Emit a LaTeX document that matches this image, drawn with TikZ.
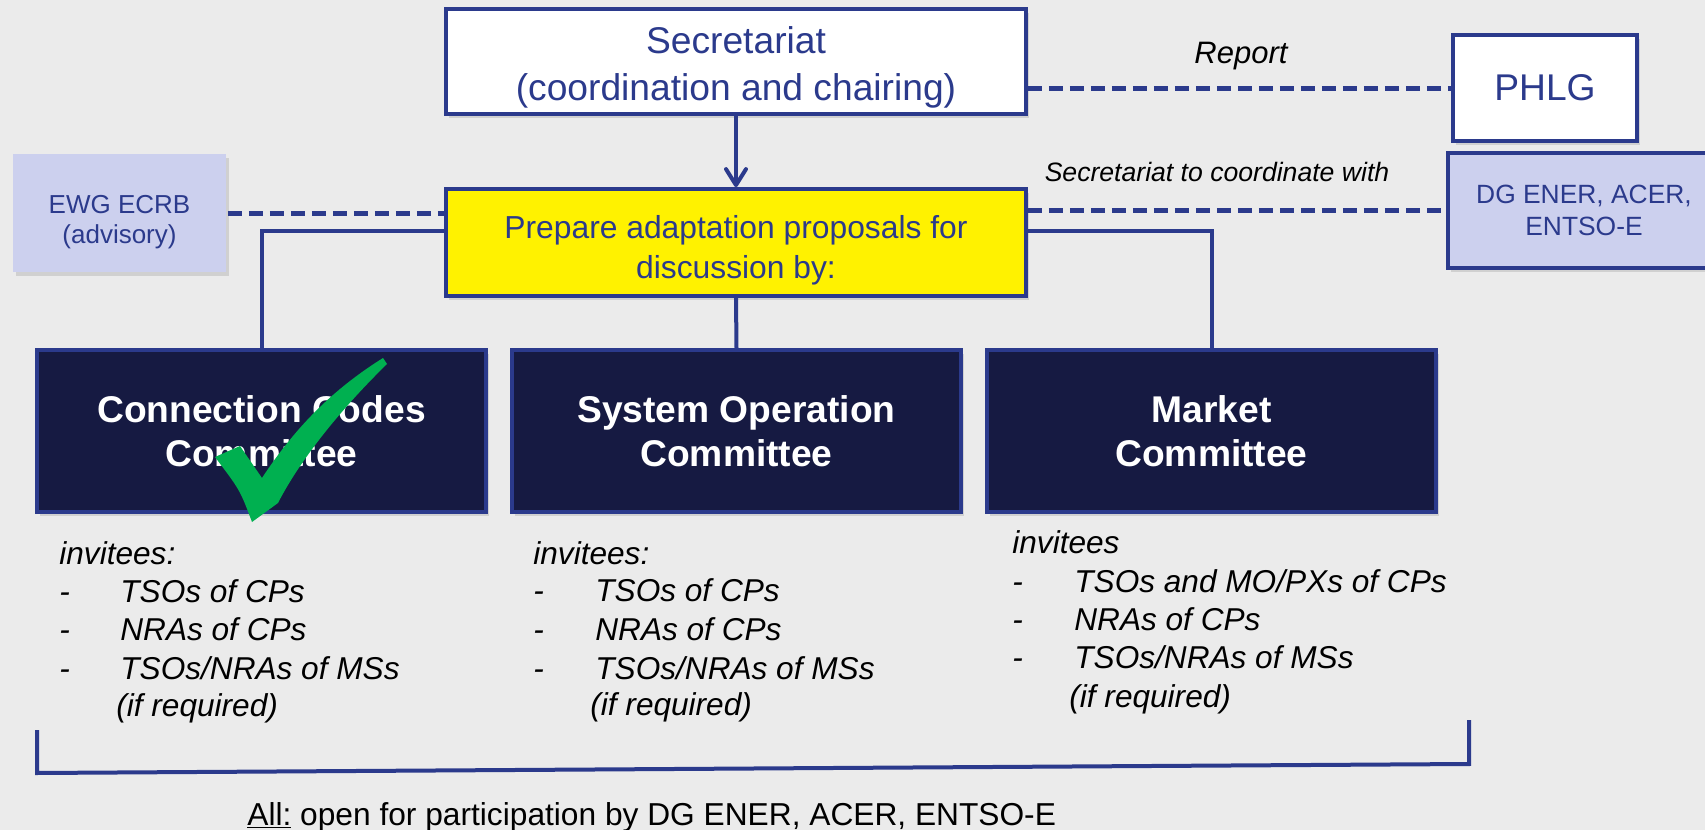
\documentclass[tikz,border=0pt]{standalone}
\usepackage{fontspec}
\setmainfont{Liberation Sans}
\usetikzlibrary{arrows.meta}
\usetikzlibrary{shadows}
\definecolor{navy}{HTML}{2B3A8C}
\definecolor{night}{HTML}{161A42}
\definecolor{lilac}{HTML}{CCD0EE}
\definecolor{paper}{HTML}{EBEBEB}
\definecolor{tick}{HTML}{00B050}
\tikzset{>={Straight Barb[length=8pt, width=10pt, round]}}

\begin{document}
\begin{tikzpicture}[x=.5pt, y=-.5pt,
    box/.style={draw=navy, line width=1.9pt, text=navy, align=center, inner sep=0pt,
        drop shadow={opacity=.25, shadow xshift=1.5pt, shadow yshift=-2pt}},
    cmte/.style={box, fill=night, text=white, minimum width=224.5pt, minimum height=81pt,
        font=\fontsize{18.6}{21.75}\selectfont\bfseries},
    link/.style={navy, line width=2pt},
    dashlink/.style={navy, line width=2.5pt, dash pattern=on 7pt off 3.5pt},
    note/.style={font=\fontsize{15.8}{19}\selectfont\itshape, inner sep=0pt, anchor=west,
        text height=.72em, text depth=0pt}]
    \useasboundingbox(0, 0)rectangle(1705, 830);
    \fill[paper](0, 0)rectangle(1705, 830);

    \node[box, fill=white, minimum width=290pt, minimum height=52.5pt, font=\fontsize{18.6}{23.4}\selectfont](secr)at(736, 61.5){\rule{0pt}{19.6pt}Secretariat\\(coordination and chairing)};
    \node[box, fill=yellow, minimum width=290pt, minimum height=53.5pt, font=\fontsize{15.9}{20}\selectfont](prep)at(736, 242.5){\rule{0pt}{19.2pt}Prepare adaptation proposals for\\discussion by:};
    \node[box, fill=white, minimum width=92pt, minimum height=53pt, font=\fontsize{18.6}{22}\selectfont](phlg)at(1545, 88){PHLG};
    \node[box, fill=lilac, minimum width=136pt, minimum height=57.5pt, font=\fontsize{13.2}{16}\selectfont](dg)at(1584, 210.5){DG ENER, ACER,\\ENTSO-E};
    \node[box, draw=none, fill=lilac, minimum width=106.5pt, minimum height=59pt, font=\fontsize{13}{15}\selectfont](ewg)at(119.5, 213){\rule{0pt}{18.5pt}EWG ECRB\\(advisory)};

    \node[cmte](cc)at(261.5, 431){Connection Codes\\Committee};
    \node[cmte](so)at(736.5, 431){System Operation\\Committee};
    \node[cmte](mc)at(1211.5, 431){Market\\Committee};

    \draw[link, ->](secr.south)--(prep.north);
    \draw[link]([yshift=6pt]prep.west)-|(cc.north);
    \draw[link]([yshift=6pt]prep.east)-|(mc.north);
    \draw[link](prep.south)--(so.north);

    \draw[dashlink](secr.east |- phlg.west)--(phlg.west);
    \draw[dashlink](prep.east |- dg.west)--(dg.west);
    \draw[dashlink](ewg.east)--(ewg.east -| prep.west);
    \node[font=\fontsize{15.5}{18}\selectfont\itshape](report)at(1241, 56){Report};
    \node[font=\fontsize{13.3}{16}\selectfont\itshape](coord)at(1217, 172){Secretariat to coordinate with};

    \fill[tick](215, 457)--(240, 446)--(262, 478)..controls(300, 420)and(340, 385)..(383, 358)
        --(387, 364)..controls(340, 410)and(300, 460)..(278, 503)--(252, 522)..controls(240, 490)..cycle;

    \node[note](ccinv)at(59, 557){invitees:};
    \foreach \y/\t[count=\i] in {595/{TSOs of CPs}, 633/{NRAs of CPs}, 672/{TSOs/NRAs of MSs}}{
        \node[note](ccd\i)at(59, \y){-};
        \node[note](cci\i)at(120, \y){\t};
    }
    \node[note](ccreq)at(116, 709){(if required)};

    \node[note](soinv)at(533, 557){invitees:};
    \foreach \y/\t[count=\i] in {594/{TSOs of CPs}, 633/{NRAs of CPs}, 672/{TSOs/NRAs of MSs}}{
        \node[note](sod\i)at(533, \y){-};
        \node[note](soi\i)at(595, \y){\t};
    }
    \node[note](soreq)at(590, 708){(if required)};

    \node[note](mcinv)at(1012, 546){invitees};
    \foreach \y/\t[count=\i] in {585/{TSOs and MO/PXs of CPs}, 623/{NRAs of CPs}, 661/{TSOs/NRAs of MSs}}{
        \node[note](mcd\i)at(1012, \y){-};
        \node[note](mci\i)at(1074, \y){\t};
    }
    \node[note](mcreq)at(1069, 700){(if required)};

    \coordinate(bl)at(37, 730);
    \coordinate(bm)at(37, 773);
    \coordinate(bn)at(1469, 764);
    \coordinate(br)at(1469, 720);
    \draw[link](bl)--(bm)--(bn)--(br);
    \node[font=\fontsize{15.85}{19}\selectfont, anchor=base west, inner sep=0pt](all)at(247, 825){\underline{All:} open for participation by DG ENER, ACER, ENTSO-E};
\end{tikzpicture}
\end{document}
